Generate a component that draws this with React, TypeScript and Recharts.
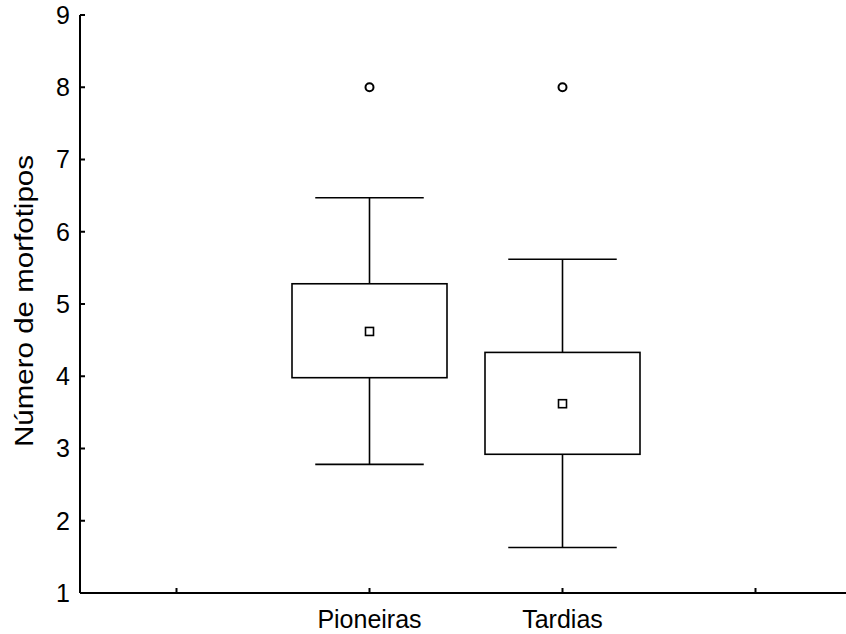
import { ComposedChart, Bar, Scatter, XAxis, YAxis } from 'recharts';

// x slots: the two groups sit in the middle of four equal bands
const slots = ['', 'Pioneiras', 'Tardias', ' '];
const groups = ['Pioneiras', 'Tardias'];
const means = [4.62, 3.62];
const boxLow = [3.98, 2.92];
const boxHigh = [5.28, 4.33];
const whiskerLow = [2.78, 1.63];
const whiskerHigh = [6.47, 5.62];
const outliers = [8, 8];
const yTicks = [1, 2, 3, 4, 5, 6, 7, 8, 9];

const rows = slots.map((s) => {
  const i = groups.indexOf(s);
  if (i < 0) return { slot: s };
  return { slot: s, whisker: [whiskerLow[i], whiskerHigh[i]], q1: boxLow[i], q3: boxHigh[i] };
});
const meanRows = groups.map((g, i) => ({ slot: g, mean: means[i] }));
const outlierRows = groups.map((g, i) => ({ slot: g, out: outliers[i] }));

const FONT = '"Liberation Sans", Arial, sans-serif';

function BoxShape(props: any) {
  const { x, y, width, height, payload } = props;
  if (!payload || !payload.whisker) return null;
  const [lo, hi] = payload.whisker;
  const top = Math.min(y, y + height);
  const bottom = Math.max(y, y + height);
  const ppu = (bottom - top) / (hi - lo);
  const py = (v: number) => bottom - (v - lo) * ppu;
  const cx = x + width / 2;
  const cap = width * 0.35;
  const yq1 = py(payload.q1);
  const yq3 = py(payload.q3);
  return (
    <g stroke="#000" strokeWidth={1.6} fill="none">
      <line x1={cx} x2={cx} y1={top} y2={yq3} />
      <line x1={cx} x2={cx} y1={yq1} y2={bottom} />
      <line x1={cx - cap} x2={cx + cap} y1={top} y2={top} />
      <line x1={cx - cap} x2={cx + cap} y1={bottom} y2={bottom} />
      <rect x={x} y={yq3} width={width} height={yq1 - yq3} fill="#fff" />
    </g>
  );
}

function MeanShape(props: any) {
  const { cx, cy } = props;
  return <rect x={cx - 4} y={cy - 4} width={8} height={8} fill="#fff" stroke="#000" strokeWidth={1.6} />;
}

function OutlierShape(props: any) {
  const { cx, cy } = props;
  return <circle cx={cx} cy={cy} r={4} fill="#fff" stroke="#000" strokeWidth={2} />;
}

export default function App() {
  return (
    <div style={{ position: 'absolute', left: 0, top: 0, width: 846, height: 634, overflow: 'hidden', background: '#fff' }}>
      <ComposedChart
        width={852}
        height={634}
        data={rows}
        margin={{ top: 15, right: 0, left: 0, bottom: 0 }}
        style={{ fontFamily: FONT }}
      >
        <XAxis
          dataKey="slot"
          type="category"
          allowDuplicatedCategory={false}
          height={41}
          axisLine={{ stroke: '#000', strokeWidth: 2 }}
          tickLine={{ stroke: '#000', strokeWidth: 2 }}
          tickSize={-5}
          tickMargin={22}
          tick={{ fill: '#000', fontSize: 25, fontFamily: FONT }}
        />
        <YAxis
          type="number"
          domain={[1, 9]}
          ticks={yTicks}
          allowDataOverflow
          width={80}
          axisLine={{ stroke: '#000', strokeWidth: 2 }}
          tickLine={{ stroke: '#000', strokeWidth: 2 }}
          tickSize={-5}
          tickMargin={15}
          tick={{ fill: '#000', fontSize: 25, fontFamily: FONT }}
          label={{
            content: ({ viewBox }: any) => {
              const cx = viewBox.x + 24;
              const cy = viewBox.y + viewBox.height / 2 - 3;
              return (
                <text
                  x={cx}
                  y={cy}
                  transform={`rotate(-90 ${cx} ${cy})`}
                  textAnchor="middle"
                  dominantBaseline="central"
                  fontSize={26}
                  textLength={292}
                  lengthAdjust="spacingAndGlyphs"
                  fontFamily={FONT}
                  fill="#000"
                >
                  Número de morfotipos
                </text>
              );
            },
          }}
        />
        <Bar dataKey="whisker" barSize={155} shape={<BoxShape />} isAnimationActive={false} />
        <Scatter data={meanRows} dataKey="mean" shape={<MeanShape />} isAnimationActive={false} />
        <Scatter data={outlierRows} dataKey="out" shape={<OutlierShape />} isAnimationActive={false} />
      </ComposedChart>
    </div>
  );
}
